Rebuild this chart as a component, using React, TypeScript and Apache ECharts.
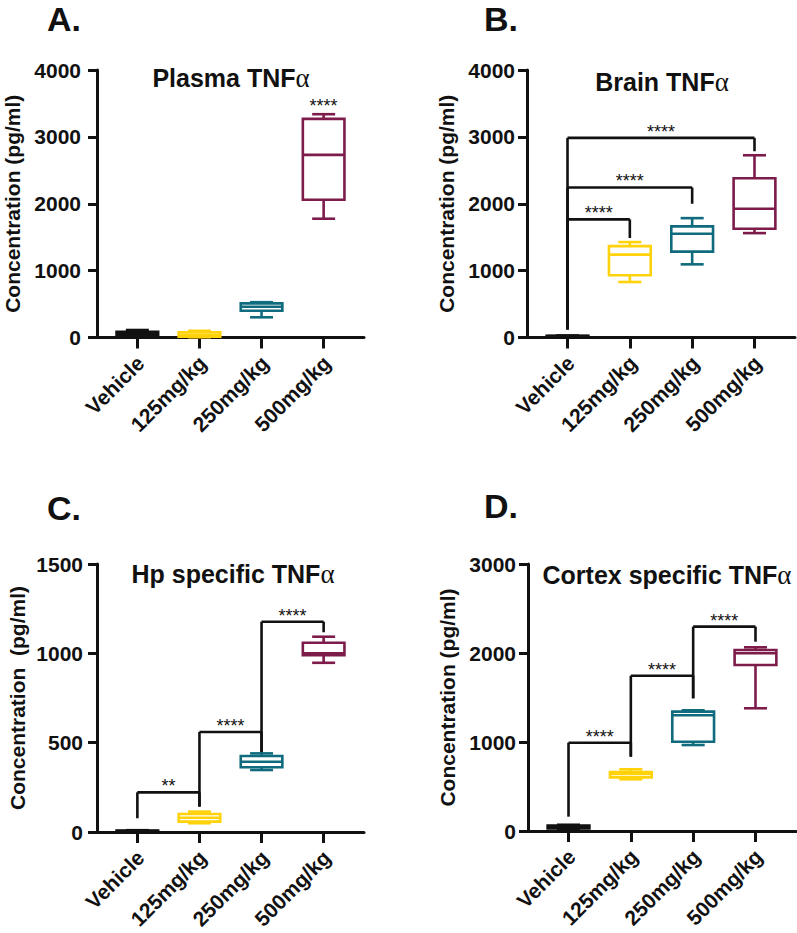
import React, { useEffect, useRef } from 'react';
import * as echarts from 'echarts';

const categories = ['Vehicle', '125mg/kg', '250mg/kg', '500mg/kg'];
const tickPositions = [0, 1, 2, 3];

// box values: [min, q1, median, q3, max]
const plasmaBox = [[12, 27, 55, 87, 112], [5, 12, 40, 78, 100], [302, 400, 460, 511, 528], [1776, 2060, 2731, 3269, 3339]];
const brainBox = [[10, 15, 20, 25, 30], [830, 930, 1239, 1367, 1427], [1094, 1284, 1552, 1661, 1785], [1561, 1627, 1925, 2382, 2725]];
const hpBox = [[2, 4, 6, 8, 10], [49, 58, 80, 101, 114], [347, 362, 393, 425, 440], [947, 990, 1000, 1059, 1093]];
const cortexBox = [[15, 30, 45, 60, 70], [581, 603, 640, 663, 693], [966, 1003, 1300, 1341, 1356], [1379, 1865, 1997, 2034, 2064]];

// brackets: [x1, x2, barY, leftEndY, rightEndY]
const plasmaBrackets: number[][] = [];
const plasmaBracketLabels: string[] = [];
const plasmaStars = [[3, 3339]];
const plasmaStarLabels = ['****'];
const brainBrackets = [[0, 1, 1766, 120, 1487], [0, 2, 2243, 120, 2000], [0, 3, 2985, 120, 2785]];
const brainBracketLabels = ['****', '****', '****'];
const hpBrackets = [[0, 1, 222, 77, 142], [1, 2, 560, 142, 440], [2, 3, 1177, 440, 1118]];
const hpBracketLabels = ['**', '****', '****'];
const cortexBrackets = [[0, 1, 992, 161, 835], [1, 2, 1745, 835, 1491], [2, 3, 2296, 1491, 2127]];
const cortexBracketLabels = ['****', '****', '****'];

const plasmaTicks = { max: 4000, interval: 1000 };
const brainTicks = { max: 4000, interval: 1000 };
const hpTicks = { max: 1500, interval: 500 };
const cortexTicks = { max: 3000, interval: 1000 };

const COLORS = ['#111111', '#FFD20A', '#0F6B7D', '#7D1C4B'];
const FONT = '"Liberation Sans", Arial, Helvetica, sans-serif';
const BOX_W = 0.67;
const CAP_W = 0.37;
const LABEL_SHIFT = 0.05;

function boxSeries(idx: number, boxes: number[][]) {
  return {
    type: 'custom',
    xAxisIndex: idx,
    yAxisIndex: idx,
    clip: false,
    z: 3,
    data: boxes.map((b, i) => [i, ...b]),
    encode: { x: 0, y: [1, 2, 3, 4, 5] },
    renderItem: (params: any, api: any) => {
      const x = api.value(0);
      const vals = [1, 2, 3, 4, 5].map((k) => api.value(k));
      const color = COLORS[x];
      const cx = api.coord([x, vals[0]])[0];
      const yMin = api.coord([x, vals[0]])[1];
      const yQ1 = api.coord([x, vals[1]])[1];
      const yMed = api.coord([x, vals[2]])[1];
      const yQ3 = api.coord([x, vals[3]])[1];
      const yMax = api.coord([x, vals[4]])[1];
      const hw = api.size([BOX_W, 0])[0] / 2;
      const cw = api.size([CAP_W, 0])[0] / 2;
      const st = { stroke: color, lineWidth: 2.6, fill: 'none' };
      return {
        type: 'group',
        children: [
          { type: 'line', shape: { x1: cx, y1: yMax, x2: cx, y2: yQ3 }, style: st },
          { type: 'line', shape: { x1: cx, y1: yQ1, x2: cx, y2: yMin }, style: st },
          { type: 'line', shape: { x1: cx - cw, y1: yMax, x2: cx + cw, y2: yMax }, style: st },
          { type: 'line', shape: { x1: cx - cw, y1: yMin, x2: cx + cw, y2: yMin }, style: st },
          { type: 'rect', shape: { x: cx - hw, y: yQ3, width: hw * 2, height: yQ1 - yQ3 }, style: { ...st, fill: '#ffffff' } },
          { type: 'line', shape: { x1: cx - hw, y1: yMed, x2: cx + hw, y2: yMed }, style: st },
        ],
      };
    },
  };
}

function bracketSeries(idx: number, brackets: number[][], labels: string[]) {
  return {
    type: 'custom',
    xAxisIndex: idx,
    yAxisIndex: idx,
    clip: false,
    z: 2,
    data: brackets,
    encode: { x: [0, 1], y: [2, 3, 4] },
    renderItem: (params: any, api: any) => {
      const x1 = api.value(0);
      const x2 = api.value(1);
      const barY = api.value(2);
      const leftY = api.value(3);
      const rightY = api.value(4);
      const ax = api.coord([x1, barY])[0];
      const bx = api.coord([x2, barY])[0];
      const by = api.coord([x1, barY])[1];
      const ly = api.coord([x1, leftY])[1];
      const ry = api.coord([x2, rightY])[1];
      const st = { stroke: '#111111', lineWidth: 2.6, fill: 'none' };
      return {
        type: 'group',
        children: [
          { type: 'line', shape: { x1: ax, y1: ly, x2: ax, y2: by }, style: st },
          { type: 'line', shape: { x1: ax, y1: by, x2: bx, y2: by }, style: st },
          { type: 'line', shape: { x1: bx, y1: by, x2: bx, y2: ry }, style: st },
          {
            type: 'text',
            style: {
              text: labels[params.dataIndex],
              x: (ax + bx) / 2,
              y: by - 6,
              align: 'center',
              verticalAlign: 'middle',
              fontSize: 18,
              fontFamily: FONT,
              fill: '#111111',
            },
          },
        ],
      };
    },
  };
}

function starSeries(idx: number, stars: number[][], labels: string[]) {
  return {
    type: 'custom',
    xAxisIndex: idx,
    yAxisIndex: idx,
    clip: false,
    data: stars,
    encode: { x: 0, y: 1 },
    renderItem: (params: any, api: any) => {
      const p = api.coord([api.value(0), api.value(1)]);
      return {
        type: 'text',
        style: {
          text: labels[params.dataIndex],
          x: p[0],
          y: p[1] - 8,
          align: 'center',
          verticalAlign: 'middle',
          fontSize: 18,
          fontFamily: FONT,
          fill: '#111111',
        },
      };
    },
  };
}

function xAxis(idx: number) {
  return {
    type: 'value',
    gridIndex: idx,
    min: -0.65,
    max: 3.65,
    splitLine: { show: false },
    axisLine: { show: true, onZero: false, lineStyle: { color: '#111111', width: 3 } },
    axisTick: { show: true, customValues: tickPositions, length: 11, lineStyle: { color: '#111111', width: 3 } },
    axisLabel: {
      show: true,
      customValues: tickPositions.map((v) => v + LABEL_SHIFT),
      formatter: (v: number) => categories[Math.round(v)] ?? '',
      rotate: 45,
      margin: 22,
      fontSize: 21,
      fontWeight: 'bold',
      fontFamily: FONT,
      color: '#111111',
    },
  };
}

function yAxis(idx: number, ticks: { max: number; interval: number }, name: string, nameGap: number, margin: number) {
  return {
    type: 'value',
    gridIndex: idx,
    min: 0,
    max: ticks.max,
    interval: ticks.interval,
    splitLine: { show: false },
    axisLine: { show: true, onZero: false, lineStyle: { color: '#111111', width: 3 } },
    axisTick: { show: true, length: 9, lineStyle: { color: '#111111', width: 3 } },
    axisLabel: {
      margin,
      fontSize: 21,
      fontWeight: 'bold',
      fontFamily: FONT,
      color: '#111111',
      formatter: (v: number) => String(v),
    },
    name,
    nameLocation: 'middle',
    nameGap,
    nameTextStyle: { fontSize: 21, fontWeight: 'bold', fontFamily: FONT, color: '#111111' },
  };
}

function titleText(text: string, x: number, y: number) {
  return {
    type: 'text',
    x,
    y,
    style: {
      text: `{b|${text}}{a|α}`,
      align: 'center',
      verticalAlign: 'middle',
      rich: {
        b: { fontSize: 25, fontWeight: 'bold', fontFamily: FONT, fill: '#111111', color: '#111111' },
        a: { fontSize: 27, fontWeight: 'normal', fontFamily: '"Liberation Serif", "DejaVu Serif", serif', fill: '#111111', color: '#111111' },
      },
    },
  };
}

function letter(text: string, x: number, y: number) {
  return {
    type: 'text',
    x,
    y,
    style: {
      text,
      align: 'left',
      verticalAlign: 'middle',
      fontSize: 34,
      fontWeight: 'bold',
      fontFamily: FONT,
      fill: '#111111',
    },
  };
}

export default function App() {
  const ref = useRef<HTMLDivElement>(null);
  useEffect(() => {
    if (!ref.current) return;
    const chart = echarts.init(ref.current, undefined, { renderer: 'svg' });
    chart.setOption({
      animation: false,
      backgroundColor: '#ffffff',
      grid: [
        { left: 97, top: 70, width: 267, height: 267.5, containLabel: false, outerBoundsMode: 'none' },
        { left: 527, top: 70, width: 268, height: 267.5, containLabel: false, outerBoundsMode: 'none' },
        { left: 97, top: 564, width: 267, height: 268, containLabel: false, outerBoundsMode: 'none' },
        { left: 528, top: 564, width: 268, height: 267, containLabel: false, outerBoundsMode: 'none' },
      ],
      xAxis: [xAxis(0), xAxis(1), xAxis(2), xAxis(3)],
      yAxis: [
        yAxis(0, plasmaTicks, 'Concentration (pg/ml)', 74, 16),
        yAxis(1, brainTicks, 'Concentration (pg/ml)', 70, 12),
        yAxis(2, hpTicks, 'Concentration  (pg/ml)', 69, 14),
        yAxis(3, cortexTicks, 'Concentration (pg/ml)', 70, 12),
      ],
      series: [
        bracketSeries(0, plasmaBrackets, plasmaBracketLabels),
        starSeries(0, plasmaStars, plasmaStarLabels),
        boxSeries(0, plasmaBox),
        bracketSeries(1, brainBrackets, brainBracketLabels),
        boxSeries(1, brainBox),
        bracketSeries(2, hpBrackets, hpBracketLabels),
        boxSeries(2, hpBox),
        bracketSeries(3, cortexBrackets, cortexBracketLabels),
        boxSeries(3, cortexBox),
      ],
      graphic: [
        letter('A.', 47, 19),
        letter('B.', 484, 19),
        letter('C.', 47, 508),
        letter('D.', 484, 506),
        titleText('Plasma TNF', 231, 78),
        titleText('Brain TNF', 662, 82),
        titleText('Hp specific TNF', 233, 574),
        titleText('Cortex specific TNF', 667, 575),
      ],
    });
    return () => chart.dispose();
  }, []);
  return <div ref={ref} style={{ position: 'absolute', left: 0, top: 0, width: 797, height: 933 }} />;
}
